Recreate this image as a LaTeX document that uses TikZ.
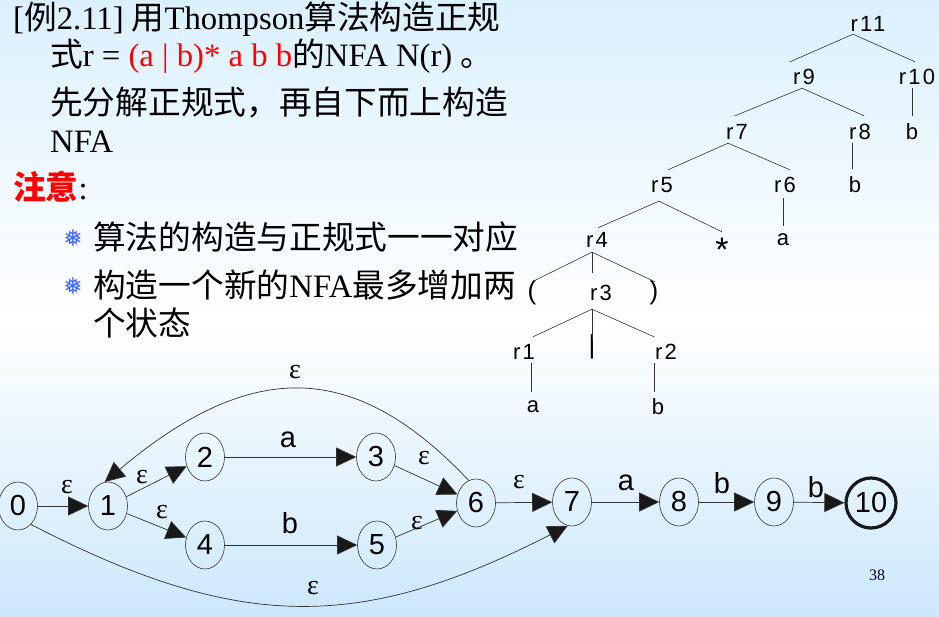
\documentclass[tikz,border=0pt]{standalone}
\usepackage{fontspec}
\setmainfont{Liberation Serif}
\newfontfamily\cjk{Noto Sans CJK SC}
\newfontfamily\sansf{Liberation Sans}
\newfontfamily\treef[LetterSpace=10]{Liberation Sans}
\newfontfamily\symf{DejaVu Sans}
\usetikzlibrary{arrows.meta,shapes.geometric}
\definecolor{bgtop}{RGB}{219,240,253}
\definecolor{bgbot}{RGB}{204,232,251}
\definecolor{flake}{RGB}{60,100,255}
\definecolor{edgecol}{RGB}{50,50,50}
\begin{document}
\begin{tikzpicture}[x=1pt,y=-1pt,
  txt/.style={anchor=base west,inner sep=0,font=\fontsize{32.7}{38}\selectfont},
  flakebullet/.style={inner sep=0,text=flake,font=\symf\fontsize{23}{23}\selectfont},
  tr/.style={inner sep=0,minimum height=26pt,font=\treef\fontsize{22}{22}\selectfont},
  st/.style={ellipse,draw=edgecol,line width=0.6pt,minimum width=39pt,minimum height=48pt,
    inner sep=0,font=\sansf\fontsize{29}{29}\selectfont},
  final/.style={st,line width=3.2pt,draw=black!90,minimum width=50pt,minimum height=50pt},
  edge/.style={draw=edgecol,line width=0.7pt,-{Triangle[length=20pt,width=19pt,fill=black!90]}},
  lbl/.style={inner sep=0,font=\sansf\fontsize{29}{29}\selectfont},
  eps/.style={inner sep=0,font=\fontsize{28}{28}\selectfont},
  treeline/.style={draw=black!80,line width=0.6pt}]
\useasboundingbox (0,0) rectangle (939,617);
% background
\shade[top color=bgtop,bottom color=white] (0,0) rectangle (939,320);
\shade[top color=white,bottom color=bgbot] (0,320) rectangle (939,617);

% text block
\node[txt] (l1) at (13,30) {[{\cjk 例}2.11] {\cjk 用}Thompson{\cjk 算法构造正规}};
\node[txt] (l2) at (50,67) {{\cjk 式}r = \textcolor{red}{(a | b)* a b b}{\cjk 的}NFA N(r) {\cjk 。}};
\node[txt] (l3) at (50,115) {\cjk 先分解正规式，再自下而上构造};
\node[txt] (l4) at (50,153) {NFA};
\node[txt] (note) at (13,200) {{\cjk\bfseries\color{red}注意}:};
\node[flakebullet] (f1) at (73,238) {❅};
\node[txt] (t1) at (93,250) {\cjk 算法的构造与正规式一一对应};
\node[flakebullet] (f2) at (73,286) {❅};
\node[txt] (t2) at (93,298) {{\cjk 构造一个新的}NFA{\cjk 最多增加两}};
\node[txt] (t3) at (93,336) {\cjk 个状态};

% syntax tree
\node[tr] (r11) at (868,24) {r11};
\node[tr] (r9) at (804,77) {r9};
\node[tr] (r10) at (917,77) {r10};
\node[tr] (r7) at (737,132) {r7};
\node[tr] (r8) at (860,132) {r8};
\node[tr] (b10) at (912,132) {b};
\node[tr] (r5) at (662,185) {r5};
\node[tr] (r6) at (785,185) {r6};
\node[tr] (b8) at (855,185) {b};
\node[tr] (r4) at (597,240) {r4};
\node[tr,font=\sansf\fontsize{34}{34}\selectfont] (star) at (722,250) {*};
\node[tr] (a6) at (783,240) {a};
\node[tr,font=\sansf\fontsize{26}{26}\selectfont] (lp) at (532,293) {(};
\node[tr] (r3) at (601,293) {r3};
\node[tr,font=\sansf\fontsize{26}{26}\selectfont] (rp) at (654,293) {)};
\node[tr] (r1) at (524,352) {r1};
\node[tr,font=\sansf\fontsize{26}{26}\selectfont] (bar) at (592,347) {|};
\node[tr] (r2) at (666,352) {r2};
\node[tr] (a1) at (533,407) {a};
\node[tr] (b2) at (658,407) {b};

\draw[treeline] ([xshift=-15pt,yshift=3pt]r11.south) -- ([xshift=-14pt,yshift=2pt]r9.north);
\draw[treeline] ([xshift=-15pt,yshift=3pt]r11.south) -- ([xshift=-2pt,yshift=2pt]r10.north);
\draw[treeline] ([xshift=-2pt,yshift=2pt]r9.south) -- ([xshift=-2pt,yshift=3pt]r7.north);
\draw[treeline] ([xshift=-2pt,yshift=2pt]r9.south) -- ([xshift=4pt,yshift=3pt]r8.north);
\draw[treeline] ([xshift=-5pt,yshift=2pt]r10.south) -- ([yshift=3pt]b10.north);
\draw[treeline] ([xshift=-9pt,yshift=2pt]r7.south) -- ([xshift=6pt,yshift=2pt]r5.north);
\draw[treeline] ([xshift=-9pt,yshift=2pt]r7.south) -- ([xshift=5pt,yshift=2pt]r6.north);
\draw[treeline] ([xshift=-8pt,yshift=2pt]r8.south) -- ([xshift=-3pt,yshift=3pt]b8.north);
\draw[treeline] ([xshift=-3pt,yshift=-3pt]r5.south) -- ([xshift=1pt,yshift=-1pt]r4.north);
\draw[treeline] ([xshift=-3pt,yshift=-3pt]r5.south) -- ([yshift=5pt]star.north);
\draw[treeline] ([xshift=-2pt]r6.south) -- ([yshift=1pt]a6.north);
\draw[treeline] ([xshift=-5pt,yshift=1pt]r4.south) -- ([yshift=-2pt]lp.north);
\draw[treeline] ([xshift=-5pt,yshift=1pt]r4.south) -- ([xshift=-9pt,yshift=7pt]r3.north);
\draw[treeline] ([xshift=-5pt,yshift=1pt]r4.south) -- ([xshift=1pt,yshift=-2pt]rp.north);
\draw[treeline] ([xshift=-9pt,yshift=-3pt]r3.south) -- ([xshift=9pt,yshift=2pt]r1.north);
\draw[treeline] ([xshift=-9pt,yshift=-3pt]r3.south) -- ([yshift=-6pt]bar.north);
\draw[treeline] ([xshift=-9pt,yshift=-3pt]r3.south) -- ([xshift=-12pt,yshift=2pt]r2.north);
\draw[treeline] ([xshift=7pt,yshift=2pt]r1.south) -- ([xshift=-2pt,yshift=2pt]a1.north);
\draw[treeline] ([xshift=-12pt,yshift=2pt]r2.south) -- ([xshift=-4pt,yshift=2pt]b2.north);

% NFA states
\node[st] (s0) at (18,506) {0};
\node[st] (s1) at (108,506) {1};
\node[st] (s2) at (205,457) {2};
\node[st] (s3) at (376,457) {3};
\node[st] (s4) at (205,545) {4};
\node[st] (s5) at (377,545) {5};
\node[st] (s6) at (476,503) {6};
\node[st] (s7) at (572,502) {7};
\node[st] (s8) at (679,502) {8};
\node[st] (s9) at (774,502) {9};
\node[final] (s10) at (871,503) {10};

% transitions
\draw[edge] (s0) -- (s1);
\draw[edge] (s1) -- (s2);
\draw[edge] (s1) -- (s4);
\draw[edge] (s2) -- (s3);
\draw[edge] (s4) -- (s5);
\draw[edge] (s3) -- (s6);
\draw[edge] (s5) -- (s6);
\draw[edge] (s6) -- (s7);
\draw[edge] (s7) -- (s8);
\draw[edge] (s8) -- (s9);
\draw[edge] (s9) -- (s10);
\draw[edge] (s6.108) .. controls (354,359) and (251,359) .. (s1.98);
\draw[edge] (s0.-55) .. controls (239,632) and (360,632) .. (s7.-100);

% transition labels
\node[eps] (e01) at (67,487) {ε};
\node[eps] (e12) at (142,477) {ε};
\node[eps] (e14) at (162,512) {ε};
\node[lbl] (la23) at (288,440) {a};
\node[lbl] (lb45) at (290,523) {b};
\node[eps] (e36) at (424,458) {ε};
\node[eps] (e56) at (417,523) {ε};
\node[eps] (e61) at (295,372) {ε};
\node[eps] (e07) at (313,588) {ε};
\node[eps] (e67) at (519,482) {ε};
\node[lbl] (la78) at (626,483) {a};
\node[lbl] (lb89) at (722,483) {b};
\node[lbl] (lb910) at (816,487) {b};

% page number
\node[inner sep=0,font=\fontsize{16}{16}\selectfont,text=black!80!blue] (pg) at (877,575) {38};
\end{tikzpicture}
\end{document}
